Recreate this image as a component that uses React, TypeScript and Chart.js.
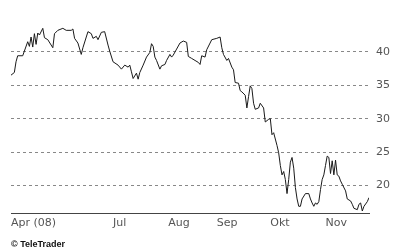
import React, { useEffect, useRef } from "react";
import { Chart, registerables } from "chart.js";

Chart.register(...registerables);

// trading-day offsets (calendar days from start) and closing prices
const days = [
  0, 2, 3, 4, 7, 8, 10, 11, 12, 13,
  14, 15, 16, 17, 19, 20, 22, 25, 26, 28,
  31, 33, 36, 37, 38, 40, 42, 43, 45, 46,
  48, 49, 51, 52, 54, 56, 58, 59, 61, 64,
  66, 68, 70, 71, 72, 73, 75, 76, 77, 79,
  81, 83, 84, 85, 86, 87, 89, 90, 92, 93,
  95, 96, 97, 99, 101, 103, 105, 106, 108, 110,
  112, 113, 114, 116, 117, 119, 120, 123, 125, 126,
  127, 129, 130, 132, 133, 134, 136, 137, 138, 140,
  141, 142, 143, 144, 145, 146, 148, 149, 151, 152,
  154, 155, 156, 157, 159, 160, 161, 162, 163, 164,
  165, 166, 167, 168, 169, 170, 171, 172, 173, 174,
  176, 178, 179, 180, 181, 182, 183, 184, 185, 186,
  187, 188, 189, 190, 191, 192, 193, 194, 195, 196,
  197, 198, 200, 201, 203, 204, 205, 207, 208, 209,
  210, 211, 213, 214,
];

const prices = [
  36.5, 36.9, 38.5, 39.4, 39.4, 40.1, 41.5, 40.8, 42.2, 40.7,
  42.7, 41.1, 42.8, 42.5, 43.5, 42.1, 41.8, 40.6, 42.7, 43.2,
  43.5, 43.2, 43.2, 43.4, 42.0, 41.3, 39.6, 40.6, 42.2, 43.0,
  42.7, 42.0, 42.3, 41.8, 42.9, 43.0, 41.0, 40.1, 38.5, 38.0,
  37.4, 38.0, 37.7, 38.0, 37.0, 36.0, 36.8, 35.9, 36.9, 38.0,
  39.2, 39.9, 41.2, 40.8, 39.2, 38.7, 37.4, 37.9, 38.1, 38.7,
  39.6, 39.2, 39.5, 40.4, 41.3, 41.6, 41.4, 39.3, 39.0, 38.7,
  38.4, 38.1, 39.4, 39.2, 40.3, 41.3, 41.8, 42.0, 42.2, 40.6,
  39.6, 38.7, 39.0, 37.7, 37.3, 35.4, 35.3, 34.2, 34.0, 33.5,
  31.6, 33.3, 34.9, 34.5, 32.3, 31.4, 31.6, 32.3, 31.6, 29.5,
  29.9, 30.0, 27.6, 27.9, 26.0, 24.9, 23.0, 21.6, 22.1, 20.9,
  18.8, 20.9, 23.5, 24.2, 22.6, 19.7, 18.0, 16.9, 16.9, 18.0,
  18.8, 18.8, 18.0, 17.4, 16.9, 17.4, 17.2, 17.6, 19.4, 20.9,
  21.6, 23.0, 24.4, 24.2, 21.8, 23.7, 21.6, 23.8, 21.6, 21.4,
  20.7, 20.2, 19.2, 18.0, 17.7, 17.2, 16.6, 16.4, 17.2, 17.4,
  16.2, 16.9, 17.6, 18.2,
];

const monthTickDays = [0, 61, 94, 123, 155, 188];
const monthTickLabels = ["Apr (08)", "Jul", "Aug", "Sep", "Okt", "Nov"];
const priceTicks = [20, 25, 30, 35, 40];
const copyrightText = "© TeleTrader";

const FONT = "'DejaVu Sans', sans-serif";

export default function App() {
  const canvasRef = useRef<HTMLCanvasElement | null>(null);

  useEffect(() => {
    const canvas = canvasRef.current;
    if (!canvas) return;

    const copyrightPlugin = {
      id: "copyright",
      afterDraw(chart: any) {
        const ctx = chart.ctx;
        ctx.save();
        ctx.font = "bold 9px 'Liberation Sans', sans-serif";
        ctx.fillStyle = "#111";
        ctx.textAlign = "left";
        ctx.textBaseline = "alphabetic";
        ctx.fillText(copyrightText, 11, 247);
        ctx.restore();
      },
    };

    const chart = new Chart(canvas, {
      type: "line",
      data: {
        datasets: [
          {
            data: days.map((d, i) => ({ x: d, y: prices[i] })),
            borderColor: "#1a1a1a",
            borderWidth: 1,
            pointRadius: 0,
            tension: 0,
            fill: false,
          },
        ],
      },
      options: {
        animation: false,
        responsive: false,
        layout: { padding: { left: 11, top: 2, right: 0, bottom: 0 } },
        plugins: {
          legend: { display: false },
          tooltip: { enabled: false },
        },
        scales: {
          x: {
            type: "linear",
            min: 0,
            max: 214,
            afterBuildTicks: (s: any) => {
              s.ticks = monthTickDays.map((v) => ({ value: v }));
            },
            afterFit: (s: any) => {
              s.height = 37;
            },
            grid: { display: false, drawTicks: false },
            border: { display: true, color: "#444", width: 1 },
            ticks: {
              autoSkip: false,
              maxRotation: 0,
              align: "start",
              padding: 4,
              color: "#555",
              font: { family: FONT, size: 11 },
              callback: (v: any) => {
                const i = monthTickDays.indexOf(Number(v));
                return i >= 0 ? monthTickLabels[i] : "";
              },
            },
          },
          y: {
            type: "linear",
            position: "right",
            min: 15.9,
            max: 45.7,
            afterBuildTicks: (s: any) => {
              s.ticks = priceTicks.map((v) => ({ value: v }));
            },
            afterFit: (s: any) => {
              s.width = 31;
            },
            grid: { color: "#888", lineWidth: 1, drawTicks: false },
            border: { display: false, dash: [3, 3] },
            ticks: {
              padding: 7,
              color: "#555",
              font: { family: FONT, size: 11 },
              callback: (v: any) => String(v),
            },
          },
        },
      },
      plugins: [copyrightPlugin],
    } as any);

    return () => chart.destroy();
  }, []);

  return (
    <div style={{ position: "fixed", left: 0, top: 0, width: 400, height: 250, background: "#fff" }}>
      <canvas ref={canvasRef} width={400} height={250} style={{ width: 400, height: 250, display: "block" }} />
    </div>
  );
}
